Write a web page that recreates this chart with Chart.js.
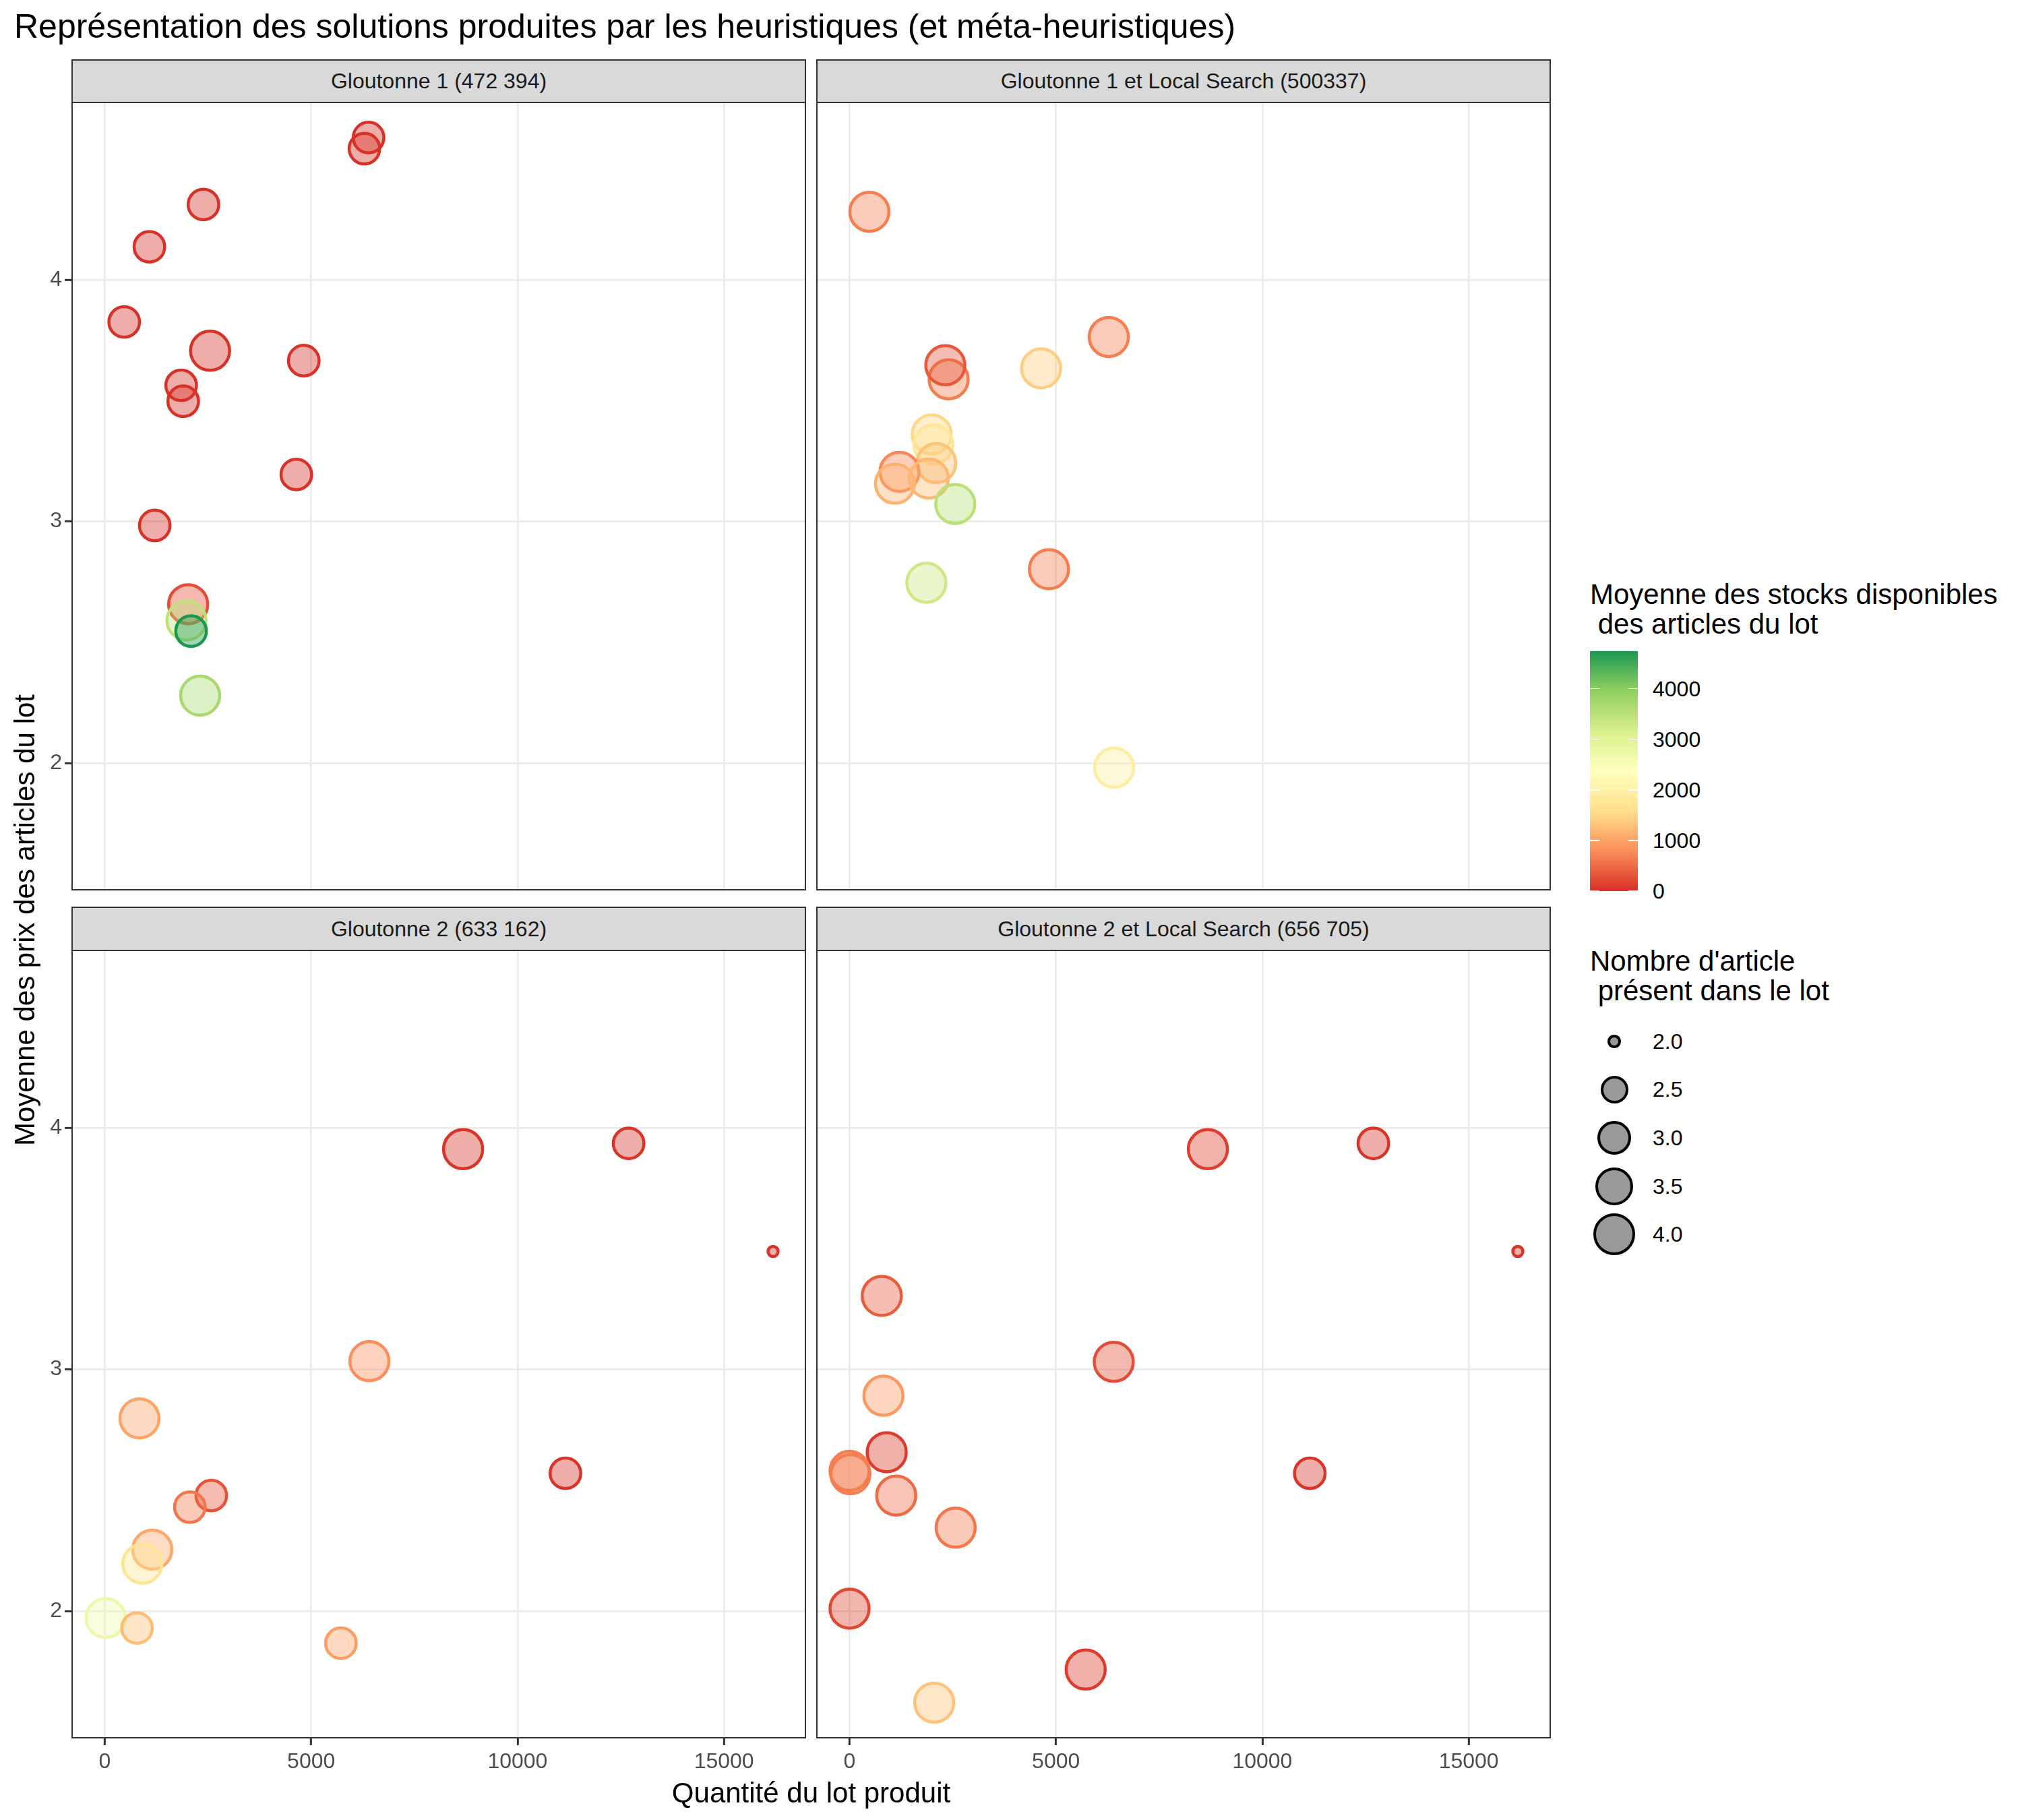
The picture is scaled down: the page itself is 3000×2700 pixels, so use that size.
<!DOCTYPE html>
<html lang="fr"><head><meta charset="utf-8">
<title>Heuristiques</title>
<script src="https://cdn.jsdelivr.net/npm/chart.js@4.4.1/dist/chart.umd.min.js"></script>
<style>
html,body{margin:0;padding:0;background:#ffffff;}
body{position:relative;width:3000px;height:2700px;overflow:hidden;font-family:"Liberation Sans",Arial,Helvetica,sans-serif;color:#000;}
.abs{position:absolute;white-space:pre;}
canvas{position:absolute;}
.strip{position:absolute;background:#d9d9d9;border:2px solid #333333;box-sizing:border-box;font-size:32px;color:#1a1a1a;display:flex;align-items:center;justify-content:center;white-space:pre;}
.pborder{position:absolute;border:2px solid #333333;box-sizing:border-box;pointer-events:none;}
</style></head>
<body>
<script>
// ---------------- DATA ----------------
const chartTitle = "Représentation des solutions produites par les heuristiques (et méta-heuristiques)";
const xTitle = "Quantité du lot produit";
const yTitle = "Moyenne des prix des articles du lot";
const colorTitle = "Moyenne des stocks disponibles\n des articles du lot";
const sizeTitle = "Nombre d'article\n présent dans le lot";

const panelTitles = ["Gloutonne 1 (472 394)", "Gloutonne 1 et Local Search (500337)",
                     "Gloutonne 2 (633 162)", "Gloutonne 2 et Local Search (656 705)"];

const xTicks = [0, 5000, 10000, 15000];
const yTicks = [2, 3, 4];
const stockTicks = [0, 1000, 2000, 3000, 4000];
const sizeBreaks = [2.0, 2.5, 3.0, 3.5, 4.0];

// Gloutonne 1
const g1Qty   = [6390, 6290, 2390, 1080, 470, 2550, 4820, 1850, 1900, 4640, 1210, 2020, 1980, 2090, 2310];
const g1Price = [4.588, 4.542, 4.311, 4.136, 3.825, 3.706, 3.665, 3.563, 3.497, 3.194, 2.983, 2.657, 2.590, 2.546, 2.279];
const g1Stock = [20, 20, 20, 20, 20, 20, 20, 20, 20, 20, 20, 250, 3450, 4740, 3700];
const g1Count = [3, 3, 3, 3, 3, 4, 3, 3, 3, 3, 3, 4, 4, 3, 4];

// Gloutonne 1 et Local Search
const g1lsQty   = [480, 6280, 2400, 2320, 4640, 1990, 2030, 2100, 1210, 1100, 1920, 2560, 1860, 4830, 6410];
const g1lsPrice = [4.281, 3.763, 3.588, 3.646, 3.633, 3.360, 3.318, 3.241, 3.205, 3.156, 3.177, 3.072, 2.746, 2.802, 1.981];
const g1lsStock = [650, 650, 650, 350, 1400, 1500, 1750, 1300, 750, 1150, 1200, 3500, 3300, 650, 1900];
const g1lsCount = [4, 4, 4, 4, 4, 4, 4, 4, 4, 4, 4, 4, 4, 4, 4];

// Gloutonne 2
const g2Qty   = [8680, 12690, 16190, 6410, 840, 11160, 2580, 2060, 1150, 910, 20, 780, 5720];
const g2Price = [3.911, 3.935, 3.488, 3.034, 2.797, 2.570, 2.478, 2.430, 2.254, 2.196, 1.971, 1.930, 1.867];
const g2Stock = [30, 30, 30, 800, 1000, 30, 300, 600, 1050, 1700, 2700, 1250, 950];
const g2Count = [4, 3, 2, 4, 4, 3, 3, 3, 4, 4, 4, 3, 3];

// Gloutonne 2 et Local Search
const g2lsQty   = [8680, 12690, 16190, 780, 6400, 820, 900, 0, 20, 1130, 2570, 0, 5720, 2050, 11150];
const g2lsPrice = [3.911, 3.935, 3.488, 3.304, 3.031, 2.891, 2.657, 2.580, 2.566, 2.478, 2.345, 2.010, 1.758, 1.621, 2.570];
const g2lsStock = [120, 30, 30, 380, 250, 900, 100, 650, 650, 500, 600, 200, 100, 1300, 30];
const g2lsCount = [4, 3, 2, 4, 4, 4, 4, 4, 4, 4, 4, 4, 4, 4, 3];

// ---------------- SCALES / STYLE ----------------
const FONT = '"Liberation Sans", Arial, Helvetica, sans-serif';
const xMin = -808, xMax = 16990;
const yMin = 1.473, yMax = 4.736;
const stockMin = 0, stockMax = 4740;
const countMin = 2, countMax = 4;
const RdYlGn = ['#d73027', '#fc8d59', '#fee08b', '#ffffbf', '#d9ef8b', '#91cf60', '#1a9850'];

function hexRgb(h){ return [parseInt(h.slice(1,3),16), parseInt(h.slice(3,5),16), parseInt(h.slice(5,7),16)]; }
function stockRGB(v){
  let t = (v - stockMin) / (stockMax - stockMin);
  t = Math.max(0, Math.min(1, t));
  const n = RdYlGn.length - 1;
  const i = Math.min(n - 1, Math.floor(t * n));
  const f = t * n - i;
  const a = hexRgb(RdYlGn[i]), b = hexRgb(RdYlGn[i+1]);
  return a.map((c, k) => Math.round(c + (b[k] - c) * f));
}
function stockColor(v, alpha){ const c = stockRGB(v); return `rgba(${c[0]},${c[1]},${c[2]},${alpha})`; }
function sizeToRadius(n){
  const s = 1 + 5 * Math.sqrt(Math.max(0, (n - countMin) / (countMax - countMin)));
  return 3.2 + 4.3 * s;
}
const BORDER_W = 4.5;

const L = {
  cols: [{left:106, width:1090}, {left:1211, width:1090}],
  rows: [{stripTop:88, top:151, height:1170}, {stripTop:1345, top:1409, height:1170}],
  yAxisW: 106, xAxisH: 80
};

const panels = [
  {title: panelTitles[0], qty: g1Qty,   price: g1Price,   stock: g1Stock,   count: g1Count,   col:0, row:0},
  {title: panelTitles[1], qty: g1lsQty, price: g1lsPrice, stock: g1lsStock, count: g1lsCount, col:1, row:0},
  {title: panelTitles[2], qty: g2Qty,   price: g2Price,   stock: g2Stock,   count: g2Count,   col:0, row:1},
  {title: panelTitles[3], qty: g2lsQty, price: g2lsPrice, stock: g2lsStock, count: g2lsCount, col:1, row:1}
];

function addDiv(cls, css, text){
  const d = document.createElement('div');
  if (cls) d.className = cls;
  Object.assign(d.style, css);
  if (text !== undefined) d.textContent = text;
  document.body.appendChild(d);
  return d;
}

// Title
addDiv('abs', {left:'21px', top:'14px', fontSize:'50px', lineHeight:'50px'}, chartTitle);

function zeroPad(s){ s.paddingTop = 0; s.paddingBottom = 0; s.paddingLeft = 0; s.paddingRight = 0; }

panels.forEach(p => {
  const col = L.cols[p.col], row = L.rows[p.row];
  const showY = p.col === 0, showX = p.row === 1;
  const left = showY ? col.left - L.yAxisW : col.left;
  const w = showY ? col.width + L.yAxisW : col.width;
  const h = row.height + (showX ? L.xAxisH : 0);
  const c = document.createElement('canvas');
  c.width = w; c.height = h;
  Object.assign(c.style, {left: left+'px', top: row.top+'px', width: w+'px', height: h+'px'});
  document.body.appendChild(c);

  const pts = p.qty.map((q, i) => ({x: q, y: p.price[i], r: sizeToRadius(p.count[i])}));
  new Chart(c.getContext('2d'), {
    type: 'bubble',
    data: {datasets: [{
      data: pts,
      backgroundColor: p.stock.map(s => stockColor(s, 0.4)),
      borderColor: p.stock.map(s => stockColor(s, 1)),
      borderWidth: BORDER_W, hoverBorderWidth: BORDER_W, hoverRadius: 0,
      clip: false
    }]},
    options: {
      responsive: false, maintainAspectRatio: false, animation: false, devicePixelRatio: 1,
      events: [],
      layout: {padding: 0, autoPadding: false},
      plugins: {legend: {display: false}, tooltip: {enabled: false}, title: {display: false}},
      scales: {
        x: {
          type: 'linear', position: 'bottom', min: xMin, max: xMax,
          afterBuildTicks: s => { s.ticks = xTicks.map(v => ({value: v})); },
          ticks: {display: showX, color: '#4d4d4d', font: {family: FONT, size: 32}, padding: 6,
                  maxRotation: 0, autoSkip: false, callback: v => String(v)},
          grid: {color: '#ebebeb', lineWidth: 2.7, drawTicks: showX, tickLength: 10, tickColor: '#333333', tickWidth: 3},
          border: {display: false},
          afterFit: s => { s.height = showX ? L.xAxisH : 0; zeroPad(s); }
        },
        y: {
          type: 'linear', position: 'left', min: yMin, max: yMax,
          afterBuildTicks: s => { s.ticks = yTicks.map(v => ({value: v})); },
          ticks: {display: showY, color: '#4d4d4d', font: {family: FONT, size: 32}, padding: 4,
                  autoSkip: false, callback: v => String(v)},
          grid: {color: '#ebebeb', lineWidth: 2.7, drawTicks: showY, tickLength: 10, tickColor: '#333333', tickWidth: 3},
          border: {display: false},
          afterFit: s => { s.width = showY ? L.yAxisW : 0; zeroPad(s); }
        }
      }
    }
  });

  addDiv('pborder', {left: col.left+'px', top: row.top+'px', width: col.width+'px', height: row.height+'px'});
  addDiv('strip', {left: col.left+'px', top: row.stripTop+'px', width: col.width+'px',
                   height: (row.top - row.stripTop + 2)+'px'}, p.title);
});

// Axis titles
const xCenter = (L.cols[0].left + L.cols[1].left + L.cols[1].width) / 2;
addDiv('abs', {left: (xCenter - 600)+'px', top: (2660 - 25)+'px', width: '1200px', height: '50px',
               lineHeight: '50px', textAlign: 'center', fontSize: '42px'}, xTitle);
const yCenter = (L.rows[0].top + L.rows[1].top + L.rows[1].height) / 2;
addDiv('abs', {left: (37 - 700)+'px', top: (yCenter - 25)+'px', width: '1400px', height: '50px',
               lineHeight: '50px', textAlign: 'center', fontSize: '42px', transform: 'rotate(-90deg)'}, yTitle);

// ---------------- LEGENDS ----------------
const LG = {left: 2359, cTitleTop: 860, barTop: 966, barH: 356, barW: 71, labelX: 2452,
            sTitleTop: 1404, keyX: 2395, keyYs: [1545, 1616, 1688, 1760, 1831]};

addDiv('abs', {left: LG.left+'px', top: LG.cTitleTop+'px', fontSize: '42px', lineHeight: '44px'}, colorTitle);

// gradient bar
const gradStops = [];
for (let i = 0; i <= 40; i++) {
  const v = stockMin + (stockMax - stockMin) * i / 40;
  gradStops.push(`${stockColor(v, 1)} ${(i * 2.5).toFixed(2)}%`);
}
addDiv('abs', {left: LG.left+'px', top: LG.barTop+'px', width: LG.barW+'px', height: LG.barH+'px',
               background: `linear-gradient(to top, ${gradStops.join(',')})`});
stockTicks.forEach(v => {
  const y = LG.barTop + LG.barH - (v - stockMin) / (stockMax - stockMin) * LG.barH;
  addDiv('abs', {left: LG.left+'px', top: (y - 0.75)+'px', width: '14px', height: '1.5px', background: '#ffffff'});
  addDiv('abs', {left: (LG.left + LG.barW - 14)+'px', top: (y - 0.75)+'px', width: '14px', height: '1.5px', background: '#ffffff'});
  addDiv('abs', {left: LG.labelX+'px', top: (y - 20)+'px', height: '40px', lineHeight: '40px', fontSize: '32px'}, String(v));
});

addDiv('abs', {left: LG.left+'px', top: LG.sTitleTop+'px', fontSize: '42px', lineHeight: '44px'}, sizeTitle);
sizeBreaks.forEach((b, i) => {
  const r = sizeToRadius(b) + BORDER_W / 2;
  const y = LG.keyYs[i];
  addDiv('abs', {left: (LG.keyX - r)+'px', top: (y - r)+'px', width: (2*r)+'px', height: (2*r)+'px',
                 boxSizing: 'border-box', borderRadius: '50%', border: BORDER_W+'px solid #000000',
                 background: 'rgba(0,0,0,0.4)'});
  addDiv('abs', {left: LG.labelX+'px', top: (y - 20)+'px', height: '40px', lineHeight: '40px', fontSize: '32px'}, b.toFixed(1));
});
</script>
</body></html>
